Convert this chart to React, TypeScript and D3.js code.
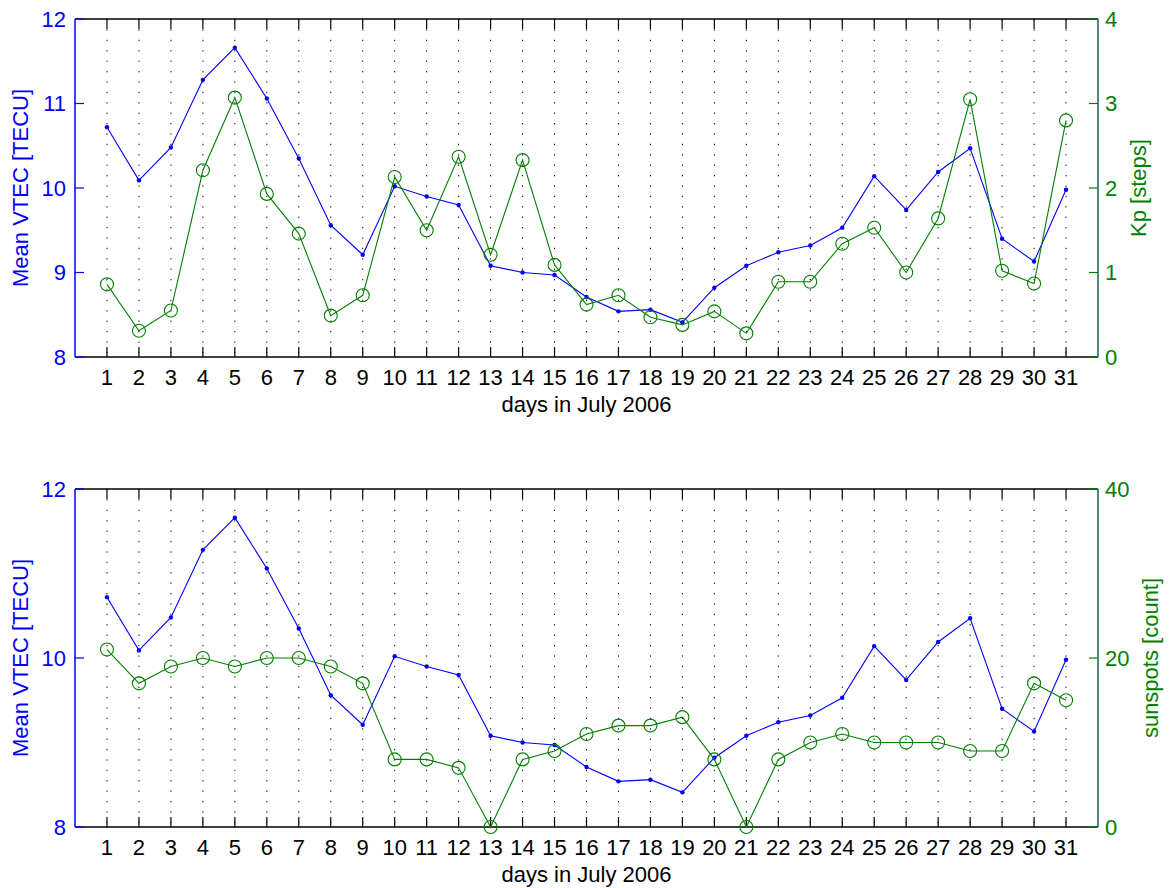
import React from "react";
import * as d3 from "d3";

const days = [1, 2, 3, 4, 5, 6, 7, 8, 9, 10, 11, 12, 13, 14, 15, 16, 17, 18, 19, 20, 21, 22, 23, 24, 25, 26, 27, 28, 29, 30, 31];
const vtec = [10.72, 10.09, 10.48, 11.28, 11.66, 11.06, 10.35, 9.56, 9.21, 10.02, 9.9, 9.8, 9.08, 9.0, 8.97, 8.71, 8.54, 8.56, 8.41, 8.82, 9.08, 9.24, 9.32, 9.53, 10.14, 9.74, 10.19, 10.47, 9.4, 9.13, 9.98];
const kp = [0.86, 0.31, 0.55, 2.21, 3.07, 1.93, 1.46, 0.49, 0.73, 2.13, 1.5, 2.37, 1.21, 2.33, 1.09, 0.62, 0.73, 0.47, 0.38, 0.54, 0.28, 0.89, 0.89, 1.34, 1.53, 1.0, 1.64, 3.05, 1.02, 0.87, 2.8];
const sunspots = [21, 17, 19, 20, 19, 20, 20, 19, 17, 8, 8, 7, 0, 8, 9, 11, 12, 12, 13, 8, 0, 8, 10, 11, 10, 10, 10, 9, 9, 17, 15];

const vtecTicksTop = [8, 9, 10, 11, 12];
const vtecTicksBottom = [8, 10, 12];
const kpTicks = [0, 1, 2, 3, 4];
const sunTicks = [0, 20, 40];

const BLUE = "#0000ff";
const GREEN = "#008000";
const TEAL = "#1a5a5a";
const FONT = "Liberation Sans, Arial, Helvetica, sans-serif";
const FS = 22;

const L = 75;
const R = 1098;

type PanelProps = {
  top: number;
  bottom: number;
  leftDomain: [number, number];
  leftTicks: number[];
  rightDomain: [number, number];
  rightTicks: number[];
  rightValues: number[];
  rightLabel: string;
  rightLabelX: number;
};

function Panel(p: PanelProps) {
  const x = d3.scaleLinear().domain([0, 32]).range([L, R]);
  const yl = d3.scaleLinear().domain(p.leftDomain).range([p.bottom, p.top]);
  const yr = d3.scaleLinear().domain(p.rightDomain).range([p.bottom, p.top]);
  const lineL = d3.line<number>().x((_, i) => x(days[i])).y((d) => yl(d));
  const lineR = d3.line<number>().x((_, i) => x(days[i])).y((d) => yr(d));
  const midY = (p.top + p.bottom) / 2;
  return (
    <g>
      {days.map((d) => (
        <line key={"g" + d} x1={x(d)} x2={x(d)} y1={p.top} y2={p.bottom} stroke="#000" strokeWidth={1} strokeDasharray="1.3,9.1" />
      ))}
      {days.map((d) => (
        <g key={"t" + d}>
          <line x1={x(d)} x2={x(d)} y1={p.bottom} y2={p.bottom - 10} stroke="#000" strokeWidth={1.2} />
          <line x1={x(d)} x2={x(d)} y1={p.top} y2={p.top + 10} stroke="#000" strokeWidth={1.2} />
          <text x={x(d)} y={p.bottom + 28} textAnchor="middle" fontSize={FS} fontFamily={FONT} fill="#000">{d}</text>
        </g>
      ))}
      <line x1={L} x2={R} y1={p.top} y2={p.top} stroke="#000" strokeWidth={1.5} />
      <line x1={L} x2={R} y1={p.bottom} y2={p.bottom} stroke="#000" strokeWidth={1.5} />
      <line x1={L} x2={L} y1={p.top} y2={p.bottom} stroke={BLUE} strokeWidth={1.5} />
      <line x1={R} x2={R} y1={p.top} y2={p.bottom} stroke={TEAL} strokeWidth={1.5} />
      {p.leftTicks.map((t) => (
        <g key={"l" + t}>
          <line x1={L} x2={L + 9} y1={yl(t)} y2={yl(t)} stroke={BLUE} strokeWidth={1.2} />
          <text x={L - 9} y={yl(t)} dy="0.35em" textAnchor="end" fontSize={FS} fontFamily={FONT} fill={BLUE}>{t}</text>
        </g>
      ))}
      {p.rightTicks.map((t) => (
        <g key={"r" + t}>
          <line x1={R} x2={R - 9} y1={yr(t)} y2={yr(t)} stroke={GREEN} strokeWidth={1.2} />
          <text x={R + 7} y={yr(t)} dy="0.35em" textAnchor="start" fontSize={FS} fontFamily={FONT} fill={GREEN}>{t}</text>
        </g>
      ))}
      <text transform={`translate(20,${midY}) rotate(-90)`} dy="0.35em" textAnchor="middle" fontSize={FS} fontFamily={FONT} fill={BLUE}>Mean VTEC [TECU]</text>
      <text transform={`translate(${p.rightLabelX},${midY}) rotate(-90)`} dy="0.35em" textAnchor="middle" fontSize={FS} fontFamily={FONT} fill={GREEN}>{p.rightLabel}</text>
      <text x={(L + R) / 2} y={p.bottom + 55} textAnchor="middle" fontSize={FS} fontFamily={FONT} fill="#000">days in July 2006</text>
      <path d={lineL(vtec) || ""} fill="none" stroke={BLUE} strokeWidth={1.1} />
      {vtec.map((v, i) => (
        <circle key={"b" + i} cx={x(days[i])} cy={yl(v)} r={2.2} fill={BLUE} />
      ))}
      <path d={lineR(p.rightValues) || ""} fill="none" stroke={GREEN} strokeWidth={1.1} />
      {p.rightValues.map((v, i) => (
        <circle key={"c" + i} cx={x(days[i])} cy={yr(v)} r={6.5} fill="none" stroke={GREEN} strokeWidth={1.1} />
      ))}
    </g>
  );
}

export default function App() {
  return (
    <svg width={1169} height={888} style={{ position: "absolute", left: 0, top: 0, background: "#fff" }}>
      <rect width={1169} height={888} fill="#fff" />
      <Panel top={19} bottom={357} leftDomain={[8, 12]} leftTicks={vtecTicksTop} rightDomain={[0, 4]} rightTicks={kpTicks} rightValues={kp} rightLabel="Kp [steps]" rightLabelX={1138} />
      <Panel top={489} bottom={827} leftDomain={[8, 12]} leftTicks={vtecTicksBottom} rightDomain={[0, 40]} rightTicks={sunTicks} rightValues={sunspots} rightLabel="sunspots [count]" rightLabelX={1150} />
    </svg>
  );
}
